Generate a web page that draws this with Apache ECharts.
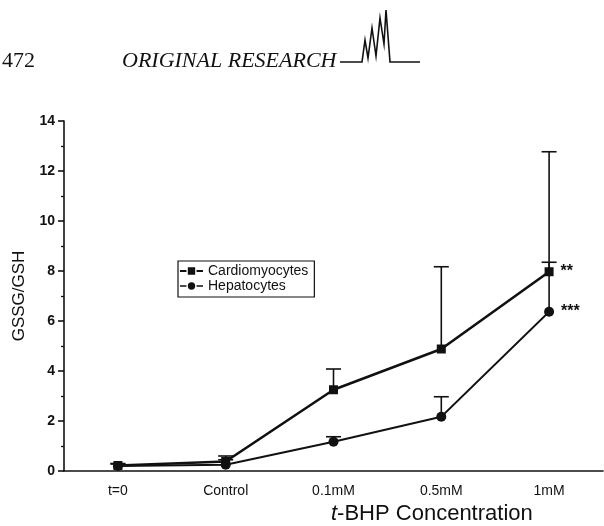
<!DOCTYPE html>
<html><head><meta charset="utf-8">
<script src="https://cdn.jsdelivr.net/npm/echarts@6/dist/echarts.min.js"></script>
<style>html,body{margin:0;padding:0;background:#fff}#c{width:604px;height:526px}</style>
</head><body><div id="c"></div>
<script>
const categories = ['t=0', 'Control', '0.1mM', '0.5mM', '1mM'];
const cardioMean = [0.22, 0.38, 3.25, 4.88, 7.97];
const cardioUpper = [0.30, 0.60, 4.08, 8.17, 12.77];
const hepatoMean = [0.20, 0.25, 1.17, 2.17, 6.37];
const hepatoUpper = [0.28, 0.45, 1.37, 2.97, 8.35];
const yTicks = [0, 2, 4, 6, 8, 10, 12, 14];
const cardioSig = ['', '', '', '', '**'];
const hepatoSig = ['', '', '', '', '***'];

const chart = echarts.init(document.getElementById('c'));
const font = 'Liberation Sans, Arial, sans-serif';

function errSeries(mean, upper) {
  return {
    type: 'custom',
    silent: true,
    z: 1,
    data: mean.map((m, i) => [i, m, upper[i]]),
    renderItem: function (params, api) {
      const p = api.coord([api.value(0), api.value(1)]);
      const t = api.coord([api.value(0), api.value(2)]);
      const st = { stroke: '#111', lineWidth: 1.6 };
      return {
        type: 'group',
        children: [
          { type: 'line', shape: { x1: p[0], y1: p[1], x2: t[0], y2: t[1] }, style: st },
          { type: 'line', shape: { x1: t[0] - 7.5, y1: t[1], x2: t[0] + 7.5, y2: t[1] }, style: st }
        ]
      };
    }
  };
}

function withLabels(vals, sig) {
  return vals.map((v, i) => sig[i] ? {
    value: v,
    label: { show: true, formatter: sig[i], position: 'right', distance: 7,
      fontSize: 16, fontWeight: 'bold', color: '#111', fontFamily: font }
  } : v);
}

chart.setOption({
  animation: false,
  backgroundColor: '#fff',
  grid: { left: 64, right: 1, top: 121, bottom: 55 },
  legend: {
    orient: 'vertical',
    left: 178, top: 261,
    padding: [3, 6, 4, 2],
    itemGap: 1,
    itemWidth: 23, itemHeight: 9,
    borderColor: '#111', borderWidth: 1.2,
    textStyle: { fontSize: 14, lineHeight: 14, color: '#111', fontFamily: font },
    data: [
      { name: 'Cardiomyocytes', icon: 'path://M0,3.8H7V6.2H0Z M8.5,1H16.5V9H8.5Z M18,3.8H25V6.2H18Z' },
      { name: 'Hepatocytes', icon: 'path://M0,4.3H7V5.7H0Z M16.5,5A4,4 0 1,1 8.5,5A4,4 0 1,1 16.5,5Z M18,4.3H25V5.7H18Z' }
    ]
  },
  xAxis: {
    type: 'category',
    data: categories,
    boundaryGap: true,
    axisLine: { lineStyle: { color: '#111', width: 1.6 } },
    axisTick: { alignWithLabel: true, length: 6, lineStyle: { color: '#111', width: 1.6 } },
    axisLabel: { fontSize: 14, color: '#111', margin: 13, fontFamily: font },
    splitLine: { show: false }
  },
  yAxis: {
    type: 'value',
    min: 0, max: 14, interval: 2,
    name: 'GSSG/GSH',
    nameLocation: 'middle',
    nameGap: 36,
    nameTextStyle: { fontSize: 17, color: '#111', fontFamily: font },
    axisLine: { show: true, lineStyle: { color: '#111', width: 1.6 } },
    axisTick: { show: true, length: 6, lineStyle: { color: '#111', width: 1.6 } },
    minorTick: { show: true, splitNumber: 2, length: 3, lineStyle: { color: '#111', width: 1.3 } },
    axisLabel: { fontSize: 14, fontWeight: 'bold', color: '#111', margin: 9, fontFamily: font,
      formatter: v => yTicks.includes(v) ? String(v) : '' },
    splitLine: { show: false }
  },
  graphic: [
    { type: 'text', left: 2, top: 50, style: { text: '472', fontSize: 22, fill: '#111', fontFamily: 'Liberation Serif, serif' } },
    { type: 'text', left: 122, top: 50, style: { text: 'ORIGINAL RESEARCH', fontSize: 22, fontStyle: 'italic', fill: '#111', fontFamily: 'Liberation Serif, serif' } },
    { type: 'polyline', shape: { points: [[340, 62], [362, 62], [365, 40], [368, 58], [372, 28], [376, 56], [380, 18], [384, 44], [386, 10], [390, 62], [420, 62]] },
      style: { stroke: '#111', lineWidth: 1.6, fill: null } },
    { type: 'text', left: 331, top: 503, style: { rich: {
        i: { fontSize: 22, fontStyle: 'italic', fill: '#111', fontFamily: font },
        n: { fontSize: 22, fill: '#111', fontFamily: font } },
        text: '{i|t}{n|-BHP Concentration}' } }
  ],
  series: [
    errSeries(cardioMean, cardioUpper),
    errSeries(hepatoMean, hepatoUpper),
    {
      name: 'Cardiomyocytes', type: 'line', z: 3,
      data: withLabels(cardioMean, cardioSig),
      symbol: 'rect', symbolSize: 9,
      itemStyle: { color: '#111' },
      lineStyle: { color: '#111', width: 2.6 }
    },
    {
      name: 'Hepatocytes', type: 'line', z: 3,
      data: withLabels(hepatoMean, hepatoSig),
      symbol: 'circle', symbolSize: 10,
      itemStyle: { color: '#111' },
      lineStyle: { color: '#111', width: 1.8 }
    }
  ]
});
</script>
</body></html>
